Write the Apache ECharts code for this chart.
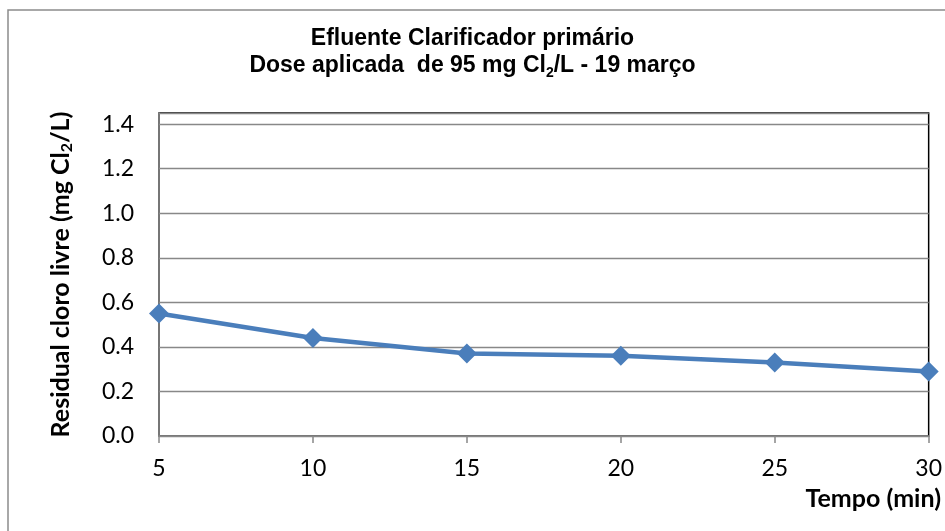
<!DOCTYPE html>
<html><head><meta charset="utf-8">
<script src="https://cdn.jsdelivr.net/npm/echarts@6/dist/echarts.min.js"></script>
<style>html,body{margin:0;padding:0;background:#fff}#c{width:945px;height:531px}</style>
</head><body><div id="c"></div>
<script>
const times = [5, 10, 15, 20, 25, 30];
const residual = [0.55, 0.44, 0.37, 0.36, 0.33, 0.29];
const titleLine1 = 'Efluente Clarificador primário';
const yTicks = [0, 0.2, 0.4, 0.6, 0.8, 1.0, 1.2, 1.4];

const chart = echarts.init(document.getElementById('c'));
const labelFont = 'Lato, "Open Sans", sans-serif';
chart.setOption({
  animation: false,
  title: {
    text: '{t|' + titleLine1 + '}\n{t|Dose aplicada  de 95 mg Cl}{s|2}{t|/L - 19 março}',
    left: 'center', top: 20,
    textStyle: {
      rich: {
        t: {fontFamily: 'Liberation Sans, Arial', fontWeight: 'bold', fontSize: 23, color: '#000', lineHeight: 27},
        s: {fontFamily: 'Liberation Sans, Arial', fontWeight: 'bold', fontSize: 14, color: '#000', lineHeight: 27, padding: [16, 0, 0, 0]}
      }
    }
  },
  graphic: [
    {type: 'rect', shape: {x: 8, y: 10, width: 940, height: 530}, style: {fill: 'none', stroke: '#8c8c8c', lineWidth: 1.5}, z: -10},
    {type: 'text', right: 4, top: 486, style: {text: 'Tempo (min)', font: 'bold 25px ' + labelFont, fill: '#000'}}
  ],
  grid: {left: 159, right: 15, top: 113, bottom: 95, show: true, borderColor: '#000', borderWidth: 1.5, backgroundColor: 'transparent'},
  xAxis: {
    type: 'value', min: 5, max: 30, interval: 5,
    axisLine: {lineStyle: {color: '#888', width: 1.5}},
    axisTick: {show: true, inside: false, length: 7, lineStyle: {color: '#888', width: 1.5}},
    splitLine: {show: false},
    axisLabel: {fontFamily: labelFont, fontSize: 23, color: '#000', margin: 21}
  },
  yAxis: {
    type: 'value', min: 0, max: 1.45, interval: 0.2,
    name: '{n|Residual cloro livre (mg Cl}{s|2}{n|/L)}',
    nameLocation: 'middle', nameGap: 84, nameRotate: 90,
    nameTextStyle: {
      rich: {
        n: {fontFamily: labelFont, fontWeight: 'bold', fontSize: 25, color: '#000'},
        s: {fontFamily: labelFont, fontWeight: 'bold', fontSize: 16, color: '#000', padding: [12, 0, 0, 0]}
      }
    },
    axisLine: {show: true, lineStyle: {color: '#888', width: 1.5}},
    axisTick: {show: false},
    splitLine: {show: true, lineStyle: {color: '#888', width: 1.3}},
    axisLabel: {fontFamily: labelFont, fontSize: 23, color: '#000', margin: 25, showMaxLabel: false,
      formatter: v => v.toFixed(1)}
  },
  series: [{
    type: 'line',
    data: times.map((t, i) => [t, residual[i]]),
    symbol: 'diamond', symbolSize: 20,
    lineStyle: {color: '#4A7EBB', width: 4.5},
    itemStyle: {color: '#4A7EBB'},
    clip: false
  }]
});
</script></body></html>
